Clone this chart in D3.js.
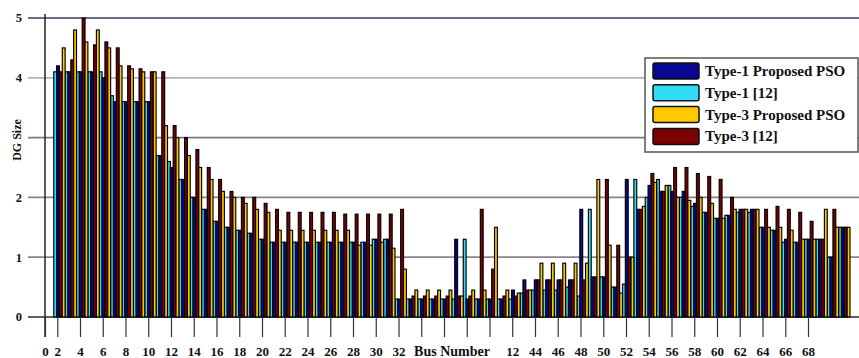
<!DOCTYPE html>
<html>
<head>
<meta charset="utf-8">
<script src="https://cdn.jsdelivr.net/npm/d3@7"></script>
<style>
  html, body { margin: 0; padding: 0; background: #fff; }
  svg { display: block; font-family: "Liberation Serif", "Times New Roman", serif; font-weight: bold; }
</style>
</head>
<body>
<svg id="chart" width="859" height="358"></svg>
<script>
// Candidate buses (one group of four bars per bus)
const buses = [2, 3, 4, 5, 6, 7, 8, 9, 10, 11,
               12, 13, 14, 15, 16, 17, 18, 19, 20, 21,
               22, 23, 24, 25, 26, 27, 28, 29, 30, 31,
               32, 33, 34, 35, 36, 37, 38, 39, 40, 41,
               42, 43, 44, 45, 46, 47, 48, 49, 50, 51,
               52, 53, 54, 55, 56, 57, 58, 59, 60, 61,
               62, 63, 64, 65, 66, 67, 68, 69, 70, 71];

// DG size per bus for each case
const type1Proposed = [4.2, 4.1, 4.1, 4.1, 4.0, 3.6, 3.6, 3.6, 3.6, 2.7,
                       2.5, 2.3, 2.0, 1.8, 1.6, 1.5, 1.45, 1.4, 1.3, 1.25,
                       1.25, 1.25, 1.25, 1.25, 1.25, 1.25, 1.25, 1.25, 1.3, 1.3,
                       0.3, 0.3, 0.3, 0.3, 0.3, 1.3, 0.3, 0.3, 0.3, 0.3,
                       0.45, 0.62, 0.62, 0.62, 0.62, 0.62, 1.8, 0.67, 0.67, 0.5,
                       2.3, 1.8, 2.2, 2.1, 2.1, 2.1, 1.9, 1.75, 1.65, 1.7,
                       1.8, 1.8, 1.5, 1.45, 1.3, 1.25, 1.3, 1.3, 1.0, 1.5];

const type1Ref = [4.1, 4.1, 4.1, 4.1, 4.1, 3.7, 3.6, 3.6, 3.6, 2.7,
                  2.6, 2.3, 2.0, 1.8, 1.6, 1.5, 1.45, 1.4, 1.3, 1.25,
                  1.25, 1.25, 1.25, 1.25, 1.25, 1.25, 1.25, 1.25, 1.3, 1.3,
                  0.3, 0.3, 0.3, 0.3, 0.3, 0.3, 1.3, 0.3, 0.3, 0.3,
                  0.3, 0.4, 0.45, 0.45, 0.45, 0.5, 0.35, 1.8, 0.67, 0.5,
                  0.55, 2.3, 2.0, 2.3, 2.2, 2.0, 1.85, 1.75, 1.65, 1.7,
                  1.75, 1.75, 1.5, 1.45, 1.25, 1.25, 1.3, 1.3, 1.0, 1.5];

const type3Proposed = [4.5, 4.8, 4.6, 4.8, 4.5, 4.2, 4.15, 4.1, 4.1, 3.2,
                       3.0, 2.7, 2.5, 2.3, 2.1, 2.0, 1.9, 1.8, 1.75, 1.45,
                       1.45, 1.45, 1.45, 1.45, 1.45, 1.45, 1.2, 1.2, 1.25, 1.15,
                       0.8, 0.45, 0.45, 0.45, 0.45, 0.35, 0.45, 0.45, 1.5, 0.45,
                       0.4, 0.45, 0.9, 0.9, 0.9, 0.9, 0.9, 2.3, 1.2, 0.4,
                       1.0, 1.85, 2.25, 2.2, 2.0, 1.95, 2.0, 1.9, 1.65, 1.8,
                       1.8, 1.8, 1.5, 1.5, 1.45, 1.3, 1.3, 1.8, 1.5, 1.5];

const type3Ref = [4.1, 4.3, 5.0, 4.55, 4.6, 4.5, 4.2, 4.15, 4.1, 4.1,
                  3.2, 3.0, 2.8, 2.5, 2.3, 2.1, 2.0, 2.0, 1.9, 1.8,
                  1.75, 1.75, 1.75, 1.75, 1.75, 1.72, 1.72, 1.72, 1.72, 1.72,
                  1.8, 0.35, 0.35, 0.35, 0.35, 0.35, 0.35, 1.8, 0.8, 0.35,
                  0.35, 0.45, 0.62, 0.62, 0.62, 0.62, 0.62, 0.67, 2.3, 1.2,
                  1.0, 1.8, 2.4, 2.1, 2.5, 2.5, 2.4, 2.35, 2.3, 2.0,
                  1.8, 1.8, 1.8, 1.85, 1.8, 1.75, 1.6, 1.3, 1.8, 1.5];

const seriesNames = ["Type-1 Proposed PSO", "Type-1 [12]", "Type-3 Proposed PSO", "Type-3 [12]"];
const seriesValues = [type1Proposed, type1Ref, type3Proposed, type3Ref];
const seriesColors = ["#07078f", "#2fdcf5", "#ffc800", "#7d0000"];
// left-to-right order of the bars inside one bus group (indices into the series lists)
const groupOrder = [1, 0, 3, 2];

const yTicks = [0, 1, 2, 3, 4, 5];
const yTickLabels = ["0", "1", "2", "", "4", "5"];
const xTickBuses = [2, 4, 6, 8, 10, 12, 14, 16, 18, 20, 22, 24, 26, 28, 30, 32,
                    34, 36, 38, 40, 42, 44, 46, 48, 50, 52, 54, 56, 58, 60, 62, 64, 66, 68];
const xTickLabels = ["2", "4", "6", "8", "10", "12", "14", "16", "18", "20", "22", "24", "26", "28", "30", "32",
                     "", "", "", "", "12", "44", "46", "48", "50", "52", "54", "56", "58", "60", "62", "64", "66", "68"];

const svg = d3.select("#chart");
const W = 859;
const axisLeft = 45;

const x = d3.scaleLinear().domain([0, 72]).range([34.5, 853.5]);
const y = d3.scaleLinear().domain([0, 5]).range([317, 18]);
const inner = d3.scaleBand().domain(groupOrder).range([-3.5, 7.875]).padding(0);

// horizontal grid lines (extend left of the axis as tick marks)
const gridColors = ["#2a2a2a", "#8e8486", "#8a8284", "#7c7c80", "#b4b4b8", "#6c6c86"];
svg.append("g").selectAll("line").data(yTicks).join("line")
  .attr("x1", 28).attr("x2", W)
  .attr("y1", d => y(d)).attr("y2", d => y(d))
  .attr("stroke", (d, i) => gridColors[i])
  .attr("stroke-width", (d, i) => i === 0 ? 1.6 : 1.8);

// bars
const barsG = svg.append("g");
groupOrder.forEach(si => {
  barsG.append("g").selectAll("rect")
    .data(buses.map((b, i) => ({ bus: b, v: seriesValues[si][i] })))
    .join("rect")
    .attr("x", d => x(d.bus) + inner(si))
    .attr("y", d => y(d.v))
    .attr("width", inner.bandwidth())
    .attr("height", d => y(0) - y(d.v))
    .attr("fill", seriesColors[si])
    .attr("stroke", "#000")
    .attr("stroke-width", 1.15);
});

// y axis line
svg.append("line")
  .attr("x1", axisLeft).attr("x2", axisLeft)
  .attr("y1", 14).attr("y2", 337)
  .attr("stroke", "#222").attr("stroke-width", 1.5);

// y tick labels
svg.append("g").selectAll("text").data(yTicks).join("text")
  .attr("x", 22).attr("y", d => y(d)).attr("dy", "0.35em")
  .attr("text-anchor", "end")
  .attr("font-size", 12.5).attr("fill", "#111")
  .text((d, i) => yTickLabels[i]);

// y axis title
svg.append("text")
  .attr("transform", "translate(21,140) rotate(-90)")
  .attr("text-anchor", "middle")
  .attr("font-size", 12).attr("fill", "#111")
  .text("DG Size");

// x axis ticks and labels
const xOrigin = x.invert(axisLeft);
const xAxis = d3.axisBottom(x)
  .tickValues([xOrigin, ...xTickBuses])
  .tickSize(20)
  .tickPadding(10)
  .tickFormat((d, i) => i === 0 ? "0" : xTickLabels[i - 1]);
const gx = svg.append("g").attr("transform", `translate(0,${y(0)})`).call(xAxis);
gx.select(".domain").remove();
gx.selectAll(".tick line").attr("stroke", "#333").attr("stroke-width", 1.2);
gx.selectAll(".tick text")
  .attr("font-family", "Liberation Serif, Times New Roman, serif")
  .attr("font-weight", "bold")
  .attr("font-size", 13).attr("fill", "#111");

svg.append("text")
  .attr("x", 452).attr("y", 356)
  .attr("text-anchor", "middle")
  .attr("font-size", 14).attr("fill", "#111")
  .text("Bus Number");

// legend
const lg = svg.append("g");
lg.append("rect")
  .attr("x", 645).attr("y", 58).attr("width", 213).attr("height", 94)
  .attr("fill", "#fff").attr("stroke", "#555").attr("stroke-width", 1.5);
const items = lg.selectAll("g.item").data(seriesNames).join("g").attr("class", "item")
  .attr("transform", (d, i) => `translate(0,${i * 21.8})`);
items.append("rect")
  .attr("x", 653).attr("y", 63).attr("width", 46).attr("height", 16).attr("rx", 2)
  .attr("fill", (d, i) => seriesColors[i])
  .attr("stroke", "#111").attr("stroke-width", 1.5);
items.append("text")
  .attr("x", 705).attr("y", 76)
  .attr("font-size", 15).attr("fill", "#111")
  .text(d => d);
</script>
</body>
</html>
